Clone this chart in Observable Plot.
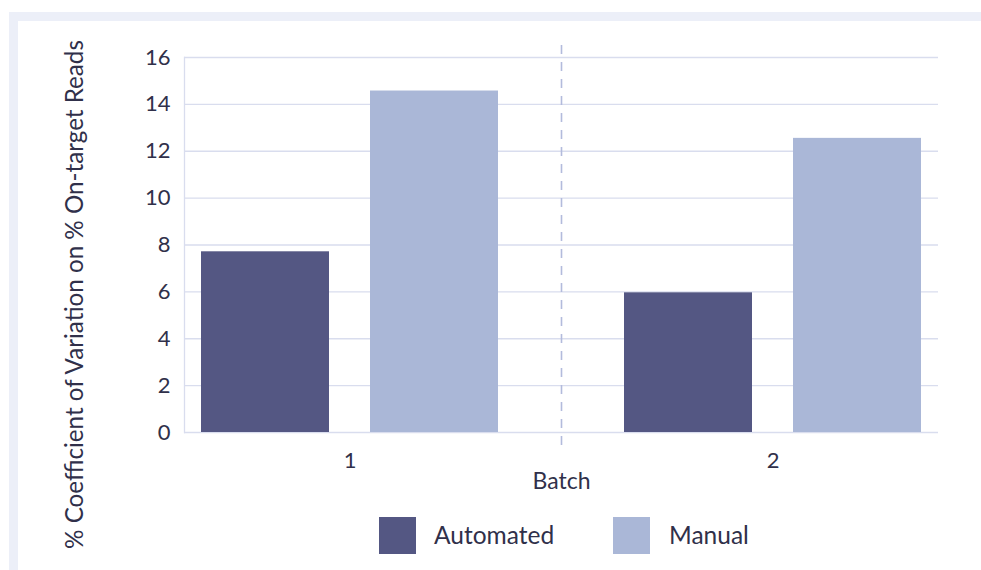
<!DOCTYPE html>
<html>
<head>
<meta charset="utf-8">
<script src="https://cdn.jsdelivr.net/npm/d3@7"></script>
<script src="https://cdn.jsdelivr.net/npm/@observablehq/plot@0.6"></script>
<style>
  html, body { margin: 0; padding: 0; background: #ffffff; width: 981px; height: 570px; overflow: hidden; font-family: Lato, "Open Sans", sans-serif; }
  .outer { position: absolute; left: 9px; top: 12px; right: 0; bottom: 0; background: #eceff8; }
  .inner { position: absolute; left: 18px; top: 21px; right: 0; bottom: 0; background: #ffffff; }
  #chart { position: absolute; left: 0; top: 0; }
  .legend-swatch { position: absolute; width: 37px; height: 37px; top: 517px; }
  .legend-label { position: absolute; top: 535px; transform: translateY(-50%); font-size: 24.5px; color: #30304a; line-height: 1; white-space: nowrap; }
</style>
</head>
<body>
<div class="outer"></div>
<div class="inner"></div>
<div id="chart"></div>
<div id="legend"></div>
<script>
// ---- data ----
const batches = ["1", "2"];
const methods = ["Automated", "Manual"];
const automated = [7.71, 5.96];
const manual = [14.57, 12.55];
const yTicks = [0, 2, 4, 6, 8, 10, 12, 14, 16];
const separators = ["2"];
const yTitle = "% Coefficient of Variation on % On-target Reads";
const xTitle = "Batch";

const colors = { Automated: "#545783", Manual: "#aab7d7" };
const textColor = "#30304a";
const gridColor = "#d9ddee";

const rows = [];
batches.forEach((b, i) => {
  rows.push({ batch: b, method: "Automated", value: automated[i] });
  rows.push({ batch: b, method: "Manual", value: manual[i] });
});

const chart = Plot.plot({
  width: 981,
  height: 570,
  marginLeft: 184,
  marginRight: 43,
  marginTop: 57,
  marginBottom: 138,
  style: { fontFamily: "Lato, sans-serif", fontSize: "22px", color: textColor, background: "transparent" },
  x: { domain: batches, paddingInner: 0.298, paddingOuter: 0.04, tickSize: 0, tickPadding: 20, label: null },
  y: { domain: [0, 16], ticks: yTicks, tickSize: 0, tickPadding: 14, label: null },
  marks: [
    Plot.ruleY(yTicks, { stroke: gridColor, strokeWidth: 1.3 }),
    Plot.frame({ anchor: "left", stroke: gridColor, strokeWidth: 1.3, strokeOpacity: 1 }),
    Plot.ruleX(separators, { stroke: "#b3bbdc", strokeWidth: 1.6, strokeDasharray: "9 8", insetTop: -12, insetBottom: -14, dx: -211.5 }),
    Plot.barY(rows.filter(d => d.method === "Automated"), { x: "batch", y: "value", fill: colors.Automated, insetRight: 169 }),
    Plot.barY(rows.filter(d => d.method === "Manual"), { x: "batch", y: "value", fill: colors.Manual, insetLeft: 169 }),
    Plot.text([yTitle], { text: d => d, frameAnchor: "left", textAnchor: "middle", lineAnchor: "middle", rotate: -90, dx: -109, dy: 49.5, fontSize: 24.2, fill: textColor }),
    Plot.text([xTitle], { text: d => d, frameAnchor: "bottom", lineAnchor: "middle", dy: 49, fontSize: 23, fill: textColor })
  ]
});
document.getElementById("chart").appendChild(chart);

// legend
const legend = document.getElementById("legend");
const swatchLeft = { Automated: 379, Manual: 613 };
const labelLeft = { Automated: 434, Manual: 669 };
methods.forEach(m => {
  const sw = document.createElement("div");
  sw.className = "legend-swatch";
  sw.style.left = swatchLeft[m] + "px";
  sw.style.background = colors[m];
  legend.appendChild(sw);
  const lb = document.createElement("div");
  lb.className = "legend-label";
  lb.style.left = labelLeft[m] + "px";
  lb.textContent = m;
  legend.appendChild(lb);
});
</script>
</body>
</html>
